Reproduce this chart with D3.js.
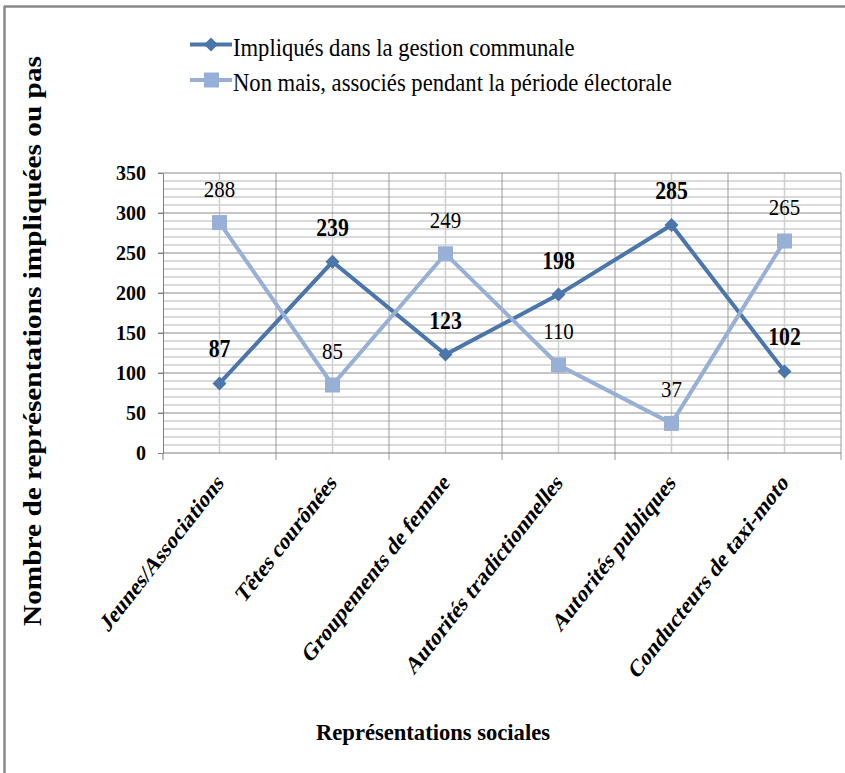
<!DOCTYPE html>
<html>
<head>
<meta charset="utf-8">
<script src="https://cdn.jsdelivr.net/npm/d3@7"></script>
<style>
  body { margin: 0; background: #fff; }
</style>
</head>
<body>
<svg width="845" height="773"></svg>
<script>
const categories = ["Jeunes/Associations", "Têtes courônées", "Groupements de femme",
                    "Autorités tradictionnelles", "Autorités publiques", "Conducteurs de taxi-moto"];
const impliques = [87, 239, 123, 198, 285, 102];
const associes = [288, 85, 249, 110, 37, 265];
const seriesNames = ["Impliqués dans la gestion communale",
                     "Non mais, associés pendant la période électorale"];
const yTicks = [0, 50, 100, 150, 200, 250, 300, 350];

const FONT = "Liberation Serif";
const svg = d3.select("svg");
const colors = ["#4a76ab", "#98afd6"];

// frame of the chart
svg.append("line").attr("x1", 4).attr("x2", 845).attr("y1", 6.5).attr("y2", 6.5)
    .style("stroke", "#8a8a8a").style("stroke-width", 2.5);
svg.append("line").attr("x1", 4.5).attr("x2", 4.5).attr("y1", 6).attr("y2", 773)
    .style("stroke", "#8a8a8a").style("stroke-width", 2.5);

const x = d3.scaleBand().domain(categories).range([163, 841]);
const y = d3.scaleLinear().domain([0, 350]).range([453, 173]);
const cx = d => x(d) + x.bandwidth() / 2;

const g = svg.append("g");

// minor grid
g.selectAll(".minor-h")
    .data(d3.range(0, 351, 10).filter(v => v % 50 !== 0))
    .enter().append("line")
    .attr("x1", 163).attr("x2", 841)
    .attr("y1", d => y(d)).attr("y2", d => y(d))
    .style("stroke", "#b5b5b5").style("stroke-width", 1);

g.selectAll(".minor-v")
    .data(categories)
    .enter().append("line")
    .attr("x1", cx).attr("x2", cx)
    .attr("y1", 173).attr("y2", 453)
    .style("stroke", "#cfcfcf").style("stroke-width", 1.5);

// major grid
g.selectAll(".major-h")
    .data(yTicks.slice(1))
    .enter().append("line")
    .attr("x1", 158).attr("x2", 841)
    .attr("y1", d => y(d)).attr("y2", d => y(d))
    .style("stroke", "#8c8c8c").style("stroke-width", 1);

g.selectAll(".major-v")
    .data(categories.slice(1).concat(["end"]))
    .enter().append("line")
    .attr("x1", (d, i) => i < categories.length - 1 ? x(d) : 841)
    .attr("x2", (d, i) => i < categories.length - 1 ? x(d) : 841)
    .attr("y1", 173).attr("y2", 460)
    .style("stroke", "#9a9a9a").style("stroke-width", 1);

// y axis
const yAxis = g.append("g")
    .attr("transform", "translate(163,0)")
    .call(d3.axisLeft(y).tickValues(yTicks).tickSize(5).tickPadding(12));
yAxis.select(".domain").style("stroke", "#808080");
yAxis.selectAll(".tick line").style("stroke", "#808080");
yAxis.selectAll("text")
    .style("font-family", FONT)
    .style("font-size", "20px")
    .style("font-weight", "bold")
    .style("fill", "#000");

// x axis
g.append("line").attr("x1", 163).attr("x2", 841).attr("y1", 453).attr("y2", 453)
    .style("stroke", "#808080");
g.append("line").attr("x1", 163).attr("x2", 163).attr("y1", 453).attr("y2", 460)
    .style("stroke", "#808080");

// category labels (rotated, slightly narrowed)
g.selectAll(".cat")
    .data(categories)
    .enter().append("text")
    .attr("transform", d => `translate(${cx(d) + 5},${484}) scale(0.78,1) rotate(-45)`)
    .attr("text-anchor", "end")
    .style("font-family", FONT)
    .style("font-size", "25px")
    .style("font-weight", "bold")
    .text(d => d);

// lines
const series = [impliques, associes];
series.forEach((vals, si) => {
    const line = d3.line().x((d, i) => cx(categories[i])).y(d => y(d));
    g.append("path")
        .datum(vals)
        .attr("d", line)
        .style("fill", "none")
        .style("stroke", colors[si])
        .style("stroke-width", 4);
});

// markers
g.selectAll(".sq")
    .data(associes)
    .enter().append("rect")
    .attr("x", (d, i) => cx(categories[i]) - 7.5)
    .attr("y", d => y(d) - 7.5)
    .attr("width", 15).attr("height", 15)
    .style("fill", colors[1]);

g.selectAll(".dia")
    .data(impliques)
    .enter().append("path")
    .attr("d", "M0,-7L7,0L0,7L-7,0Z")
    .attr("transform", (d, i) => `translate(${cx(categories[i])},${y(d)})`)
    .style("fill", colors[0]);

// data labels
g.selectAll(".lab2")
    .data(associes)
    .enter().append("text")
    .attr("transform", (d, i) => `translate(${cx(categories[i])},${y(d) - 26}) scale(0.87,1)`)
    .attr("text-anchor", "middle")
    .style("font-family", FONT)
    .style("font-size", "24px")
    .text(d => d);

g.selectAll(".lab1")
    .data(impliques)
    .enter().append("text")
    .attr("transform", (d, i) => `translate(${cx(categories[i])},${y(d) - 26}) scale(0.87,1)`)
    .attr("text-anchor", "middle")
    .style("font-family", FONT)
    .style("font-size", "25px")
    .style("font-weight", "bold")
    .text(d => d);

// legend
const legend = svg.append("g");
seriesNames.forEach((name, i) => {
    const ly = 44.5 + i * 35.5;
    legend.append("line").attr("x1", 190).attr("x2", 232).attr("y1", ly).attr("y2", ly)
        .style("stroke", colors[i]).style("stroke-width", 4);
    if (i === 0) {
        legend.append("path").attr("d", "M0,-7L7,0L0,7L-7,0Z")
            .attr("transform", `translate(211,${ly})`).style("fill", colors[i]);
    } else {
        legend.append("rect").attr("x", 204).attr("y", ly - 7.5)
            .attr("width", 15).attr("height", 15).style("fill", colors[i]);
    }
    legend.append("text")
        .attr("transform", `translate(233,${ly + 11}) scale(0.87,1)`)
        .style("font-family", FONT)
        .style("font-size", "26px")
        .text(name);
});

// axis titles
svg.append("text")
    .attr("transform", "translate(41,341) rotate(-90)")
    .attr("text-anchor", "middle")
    .attr("textLength", 570)
    .attr("lengthAdjust", "spacingAndGlyphs")
    .style("font-family", FONT)
    .style("font-size", "26px")
    .style("font-weight", "bold")
    .text("Nombre de représentations impliquées ou pas");

svg.append("text")
    .attr("x", 433).attr("y", 740)
    .attr("text-anchor", "middle")
    .attr("textLength", 234)
    .attr("lengthAdjust", "spacingAndGlyphs")
    .style("font-family", FONT)
    .style("font-size", "24px")
    .style("font-weight", "bold")
    .text("Représentations sociales");
</script>
</body>
</html>
